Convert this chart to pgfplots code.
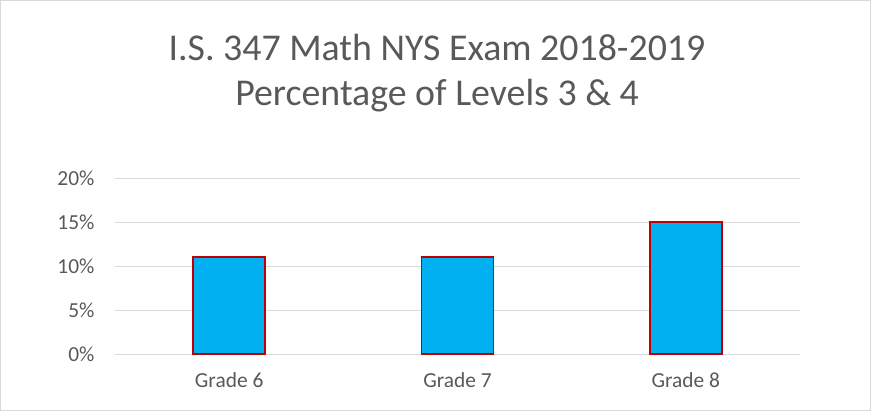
\documentclass[border=0pt]{standalone}
\usepackage{pgfplots}
\pgfplotsset{compat=1.18}
\usepackage{fontspec}
\setmainfont{Carlito}
\definecolor{txt}{HTML}{595959}
\definecolor{grd}{HTML}{D9D9D9}
\definecolor{barfill}{HTML}{00B0F0}
\definecolor{baredge}{HTML}{C00000}
\begin{document}
\begin{tikzpicture}[x=1bp,y=1bp]
\path[use as bounding box] (0,0) rectangle (871,411);
\draw[grd, line width=1bp] (0.5,0.5) rectangle (870.5,410.5);
\node[text=txt, font=\fontsize{38}{44}\selectfont, align=center] at (437,363) {I.S. 347 Math NYS Exam 2018-2019};
\node[text=txt, font=\fontsize{38}{44}\selectfont, align=center] at (437,315) {Percentage of Levels 3 \& 4};
\begin{axis}[
  at={(115bp,57bp)}, anchor=south west,
  scale only axis, width=685bp, height=176bp,
  xmin=-0.5, xmax=2.5, ymin=0, ymax=20,
  axis line style={draw=none},
  xtick={0,1,2}, xticklabels={Grade 6, Grade 7, Grade 8},
  ytick={0,5,10,15,20}, yticklabels={0\%,5\%,10\%,15\%,20\%},
  major tick length=0pt,
  ymajorgrids, grid style={grd, line width=1bp},
  tick label style={text=txt, font=\fontsize{21.5}{25}\selectfont},
  xticklabel style={yshift=-15bp},
  yticklabel style={xshift=-17bp},
  ybar, bar width=72bp,
]
\addplot[fill=barfill, draw=baredge, line width=1.6bp] coordinates {(0,11) (1,11) (2,15)};
\end{axis}
\end{tikzpicture}
\end{document}
